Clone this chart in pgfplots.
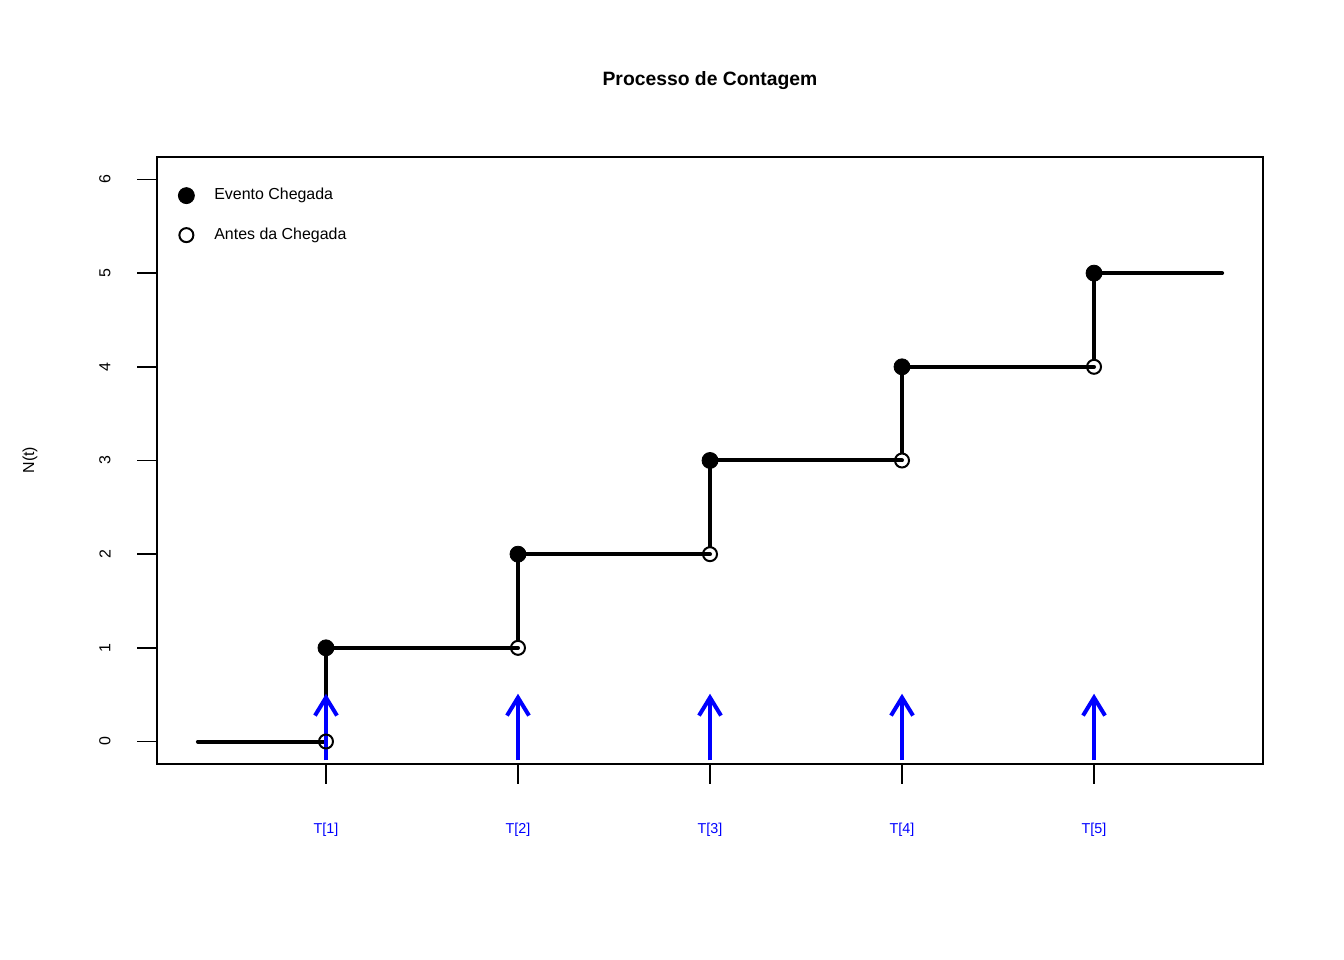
\documentclass[border=0pt]{standalone}
\usepackage{pgfplots}
\pgfplotsset{compat=1.18}
\usepackage{fontspec}
\setmainfont{Liberation Sans}
\usetikzlibrary{arrows.meta}
\begin{document}
\begin{tikzpicture}
\path[use as bounding box] (0,0) rectangle (672bp,480bp);
\node[font=\bfseries\fontsize{9.7}{11}\selectfont] at (355bp,439.5bp) {Processo de Contagem};
\node[rotate=90,font=\fontsize{8}{9}\selectfont] at (15bp,250bp) {N(t)};
\begin{axis}[
  at={(78.5bp,98bp)}, anchor=south west,
  scale only axis, width=553bp, height=303.5bp,
  xmin=0.12, xmax=5.88, ymin=-0.24, ymax=6.24,
  axis line style={line width=0.9bp},
  xtick={1,2,3,4,5},
  xticklabels={T[1],T[2],T[3],T[4],T[5]},
  ytick={0,1,2,3,4,5,6},
  tick align=outside, tick pos=left,
  major tick length=10bp,
  every tick/.style={black, line width=0.9bp},
  xticklabel style={blue, font=\fontsize{7.2}{8}\selectfont, anchor=center, yshift=-23bp},
  yticklabel style={xshift=-16bp, rotate=90, anchor=center, font=\fontsize{8}{9}\selectfont},
  /pgf/number format/assume math mode=true,
  clip=false,
  legend style={draw=none, fill=none, at={(0,1)}, anchor=north west, xshift=7.5bp, yshift=-11.5bp,
    font=\fontsize{8}{9}\selectfont, row sep=8.5bp,
    /tikz/every odd column/.append style={column sep=8bp}},
  legend cell align=left,
]
% horizontal segments
\addplot[forget plot, black, line width=2bp, line cap=round] coordinates {(0.333,0) (1,0)};
\addplot[forget plot, black, line width=2bp, line cap=round] coordinates {(1,1) (2,1)};
\addplot[forget plot, black, line width=2bp, line cap=round] coordinates {(2,2) (3,2)};
\addplot[forget plot, black, line width=2bp, line cap=round] coordinates {(3,3) (4,3)};
\addplot[forget plot, black, line width=2bp, line cap=round] coordinates {(4,4) (5,4)};
\addplot[forget plot, black, line width=2bp, line cap=round] coordinates {(5,5) (5.667,5)};
% vertical segments
\addplot[forget plot, black, line width=2bp] coordinates {(1,0.07) (1,1)};
\addplot[forget plot, black, line width=2bp] coordinates {(2,1.07) (2,2)};
\addplot[forget plot, black, line width=2bp] coordinates {(3,2.07) (3,3)};
\addplot[forget plot, black, line width=2bp] coordinates {(4,3.07) (4,4)};
\addplot[forget plot, black, line width=2bp] coordinates {(5,4.07) (5,5)};
% points
\addplot[only marks, mark=*, mark size=4bp, black] coordinates {(1,1) (2,2) (3,3) (4,4) (5,5)};
\addlegendentry{Evento Chegada}
\addplot[only marks, mark=o, mark size=3.5bp, black, mark options={line width=1bp}] coordinates {(1,0) (2,1) (3,2) (4,3) (5,4)};
\addlegendentry{Antes da Chegada}
% arrows
\addplot[forget plot, blue, line width=2bp, -{Straight Barb[length=9bp, width=11bp, line width=2bp]}] coordinates {(1,-0.2) (1,0.51)};
\addplot[forget plot, blue, line width=2bp, -{Straight Barb[length=9bp, width=11bp, line width=2bp]}] coordinates {(2,-0.2) (2,0.51)};
\addplot[forget plot, blue, line width=2bp, -{Straight Barb[length=9bp, width=11bp, line width=2bp]}] coordinates {(3,-0.2) (3,0.51)};
\addplot[forget plot, blue, line width=2bp, -{Straight Barb[length=9bp, width=11bp, line width=2bp]}] coordinates {(4,-0.2) (4,0.51)};
\addplot[forget plot, blue, line width=2bp, -{Straight Barb[length=9bp, width=11bp, line width=2bp]}] coordinates {(5,-0.2) (5,0.51)};
\end{axis}
\end{tikzpicture}
\end{document}
